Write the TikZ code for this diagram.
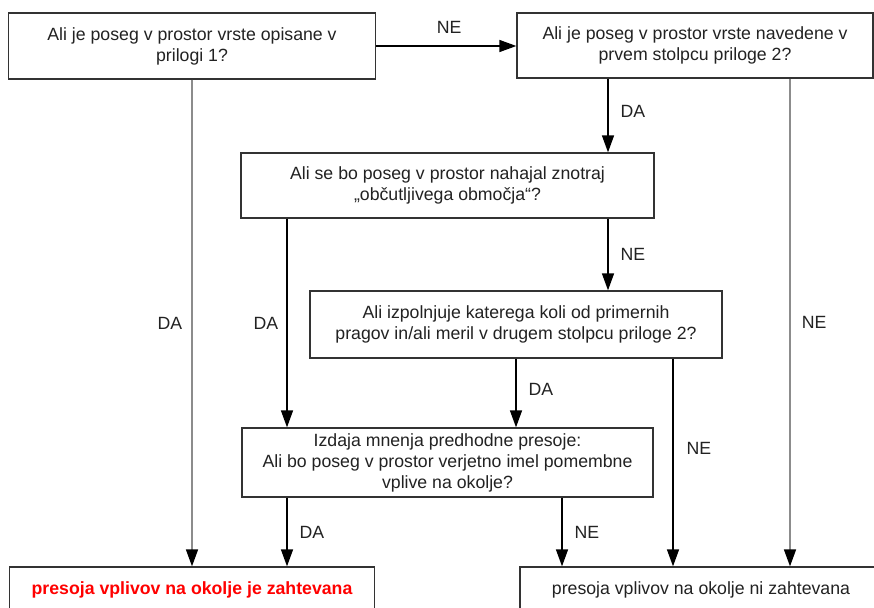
\documentclass[tikz,border=0pt]{standalone}
\usepackage{fontspec}
\setmainfont{Liberation Sans}
\usetikzlibrary{arrows.meta}
\definecolor{boxline}{HTML}{333333}
\definecolor{lgray}{HTML}{8C8C8C}
\definecolor{txt}{HTML}{222222}
\begin{document}
\begin{tikzpicture}[x=1pt,y=-1pt,
  box/.style={draw=boxline,line width=1.3pt,fill=white,align=center,inner sep=0pt,text=txt,
    font=\fontsize{17.7}{21}\selectfont},
  conn/.style={line width=1.4pt,draw=black,-{Triangle[length=17pt,width=12pt,black]}},
  gconn/.style={conn,draw=lgray,line width=1.6pt},
  lab/.style={font=\fontsize{17.7}{18}\selectfont,inner sep=0pt,text=txt}]
\useasboundingbox (0,0) rectangle (874,607);
\node[box,minimum width=367pt,minimum height=66pt] (b1) at (192,46) {Ali je poseg v prostor vrste opisane v\\prilogi 1?};
\node[box,minimum width=356pt,minimum height=65pt] (b2) at (695,45.5) {Ali je poseg v prostor vrste navedene v\\prvem stolpcu priloge 2?};
\node[box,minimum width=413pt,minimum height=65pt] (b3) at (447.5,185.5) {Ali se bo poseg v prostor nahajal znotraj\\„občutljivega območja“?};
\node[box,minimum width=412pt,minimum height=67pt] (b4) at (516,324.5) {Ali izpolnjuje katerega koli od primernih\\pragov in/ali meril v drugem stolpcu priloge 2?};
\node[box,minimum width=411pt,minimum height=69pt] (b5) at (447.5,462.5) {Izdaja mnenja predhodne presoje:\\Ali bo poseg v prostor verjetno imel pomembne\\vplive na okolje?};
\node[box,minimum width=365pt,minimum height=46pt,text=red,font=\fontsize{17.7}{21}\selectfont\bfseries] (bl) at (192,590) {presoja vplivov na okolje je zahtevana};
\node[box,minimum width=362pt,minimum height=46pt] (br) at (701,590) {presoja vplivov na okolje ni zahtevana};
\coordinate (x287) at (287,0);
\coordinate (x562) at (562,0);
\coordinate (x608) at (608,0);
\coordinate (x673) at (673,0);
\coordinate (x790) at (790,0);
% connectors
\draw[conn] (b1.east) -- (b1.east -| b2.west) node[lab,pos=0.52,above=12pt] (l1) {NE};
\draw[gconn] (b1.south) -- (bl.north) node[lab,pos=0.5,left=9pt] (l2) {DA};
\draw[conn] (b2.south -| x608) -- (b3.north -| x608) node[lab,pos=0.45,right=12pt] (l3) {DA};
\draw[gconn] (b2.south -| x790) -- (br.north -| x790) node[lab,pos=0.5,right=11pt] (l4) {NE};
\draw[conn] (b3.south -| x287) -- (b5.north -| x287) node[lab,pos=0.5,left=8pt] (l5) {DA};
\draw[conn] (b3.south -| x608) -- (b4.north -| x608) node[lab,pos=0.5,right=12pt] (l6) {NE};
\draw[conn] (b4.south) -- (b5.north -| b4.south) node[lab,pos=0.45,right=12pt] (l7) {DA};
\draw[conn] (b4.south -| x673) -- (br.north -| x673) node[lab,pos=0.43,right=13pt] (l8) {NE};
\draw[conn] (b5.south -| x287) -- (bl.north -| x287) node[lab,pos=0.5,right=12pt] (l9) {DA};
\draw[conn] (b5.south -| x562) -- (br.north -| x562) node[lab,pos=0.5,right=12pt] (l10) {NE};
\end{tikzpicture}
\end{document}
